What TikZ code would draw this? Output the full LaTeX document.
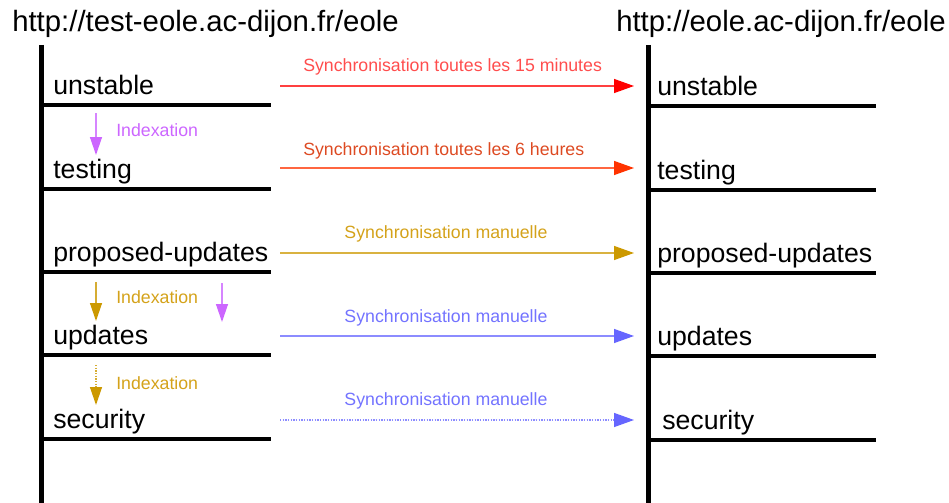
\documentclass[tikz,border=0pt]{standalone}
\usepackage{fontspec}
\setmainfont{Liberation Sans}
\usetikzlibrary{arrows.meta}
\definecolor{syncRed}{HTML}{FF0000}
\definecolor{syncOrange}{HTML}{FF3300}
\definecolor{syncGold}{HTML}{CC9900}
\definecolor{syncBlue}{HTML}{6666FF}
\definecolor{idxPurple}{HTML}{CC66FF}
\definecolor{txtRed}{HTML}{FF4D4D}
\definecolor{txtOrange}{HTML}{DD4A22}
\definecolor{txtGold}{HTML}{D4A21A}
\definecolor{txtBlue}{HTML}{7373FF}
\begin{document}
\begin{tikzpicture}[x=0.75pt, y=-0.75pt, line join=round,
	depot/.style={font=\fontsize{22}{26}\selectfont, anchor=base west, inner sep=0pt},
	branch/.style={font=\fontsize{20}{24}\selectfont, anchor=base west, inner sep=0pt},
	note/.style={font=\fontsize{13.3}{16}\selectfont, inner sep=0pt},
	sync/.style={-{Triangle[length=15pt, width=10.5pt, color=#1]}, line width=1pt, draw=#1!75!white},
	index/.style={-{Triangle[length=13.5pt, width=9pt, color=#1]}, line width=1pt, draw=#1!80!white}]
	\useasboundingbox (0,0) rectangle (949,503);
	\path (41,45) coordinate (L)
	(41,503) coordinate (Lb)
	(648,45) coordinate (R)
	(648,503) coordinate (Rb);
	
	% depots
	\node[depot] (srcurl) at (12,32) {http://test-eole.ac-dijon.fr/eole};
	\node[depot] (dsturl) at (616,32) {http://eole.ac-dijon.fr/eole};
	\draw[line width=3.75pt] (L) -- (Lb);
	\draw[line width=3.75pt] (R) -- (Rb);
	
	% branches
	\foreach \p/\y/\dx in {unstable/105/0, testing/189/0, proposed-updates/272/0, updates/355/0, security/439/5} {
		\draw[line width=2.4pt] (41,\y) coordinate (src-\p-a) -- (271,\y) coordinate (src-\p-b);
		\draw[line width=2.4pt] (648,\y+1) coordinate (dst-\p-a) -- (876,\y+1) coordinate (dst-\p-b);
		\node[branch] (src-\p) at (53,\y-11) {\p};
		\node[branch] (dst-\p) at (657+\dx,\y-10) {\p};
	}
	
	% synchronisations
	\foreach \n/\y/\c/\d in {1/86/syncRed/solid, 2/168/syncOrange/solid, 3/253/syncGold/solid, 4/336/syncBlue/solid, 5/420/syncBlue/densely dotted} {
		\path (280,\y) coordinate (sync\n-a) (634,\y) coordinate (sync\n-b);
		\draw[sync=\c, \d] (sync\n-a) -- (sync\n-b);
	}
	\node[note, anchor=west, text=txtRed] (lab1) at (303,67) {Synchronisation toutes les 15 minutes};
	\node[note, anchor=west, text=txtOrange] (lab2) at (303,151) {Synchronisation toutes les 6 heures};
	\node[note, text=txtGold] (lab3) at (446,234) {Synchronisation manuelle};
	\node[note, text=txtBlue] (lab4) at (446,318) {Synchronisation manuelle};
	\node[note, text=txtBlue] (lab5) at (446,401) {Synchronisation manuelle};
	
	% indexations
	\path (96,113) coordinate (idx1-a) (96,155) coordinate (idx1-b)
	(96,282) coordinate (idx2-a) (96,321) coordinate (idx2-b)
	(222,283) coordinate (idx3-a) (222,322) coordinate (idx3-b)
	(96,365) coordinate (idx4-a) (96,405) coordinate (idx4-b);
	\draw[index=idxPurple] (idx1-a) -- (idx1-b);
	\draw[index=syncGold] (idx2-a) -- (idx2-b);
	\draw[index=idxPurple] (idx3-a) -- (idx3-b);
	\draw[index=syncGold, densely dotted] (idx4-a) -- (idx4-b);
	\node[note, anchor=west, text=idxPurple] (idxlab1) at (116,130) {Indexation};
	\node[note, anchor=west, text=txtGold] (idxlab2) at (116,297) {Indexation};
	\node[note, anchor=west, text=txtGold] (idxlab3) at (116,383) {Indexation};
\end{tikzpicture}
\end{document}
